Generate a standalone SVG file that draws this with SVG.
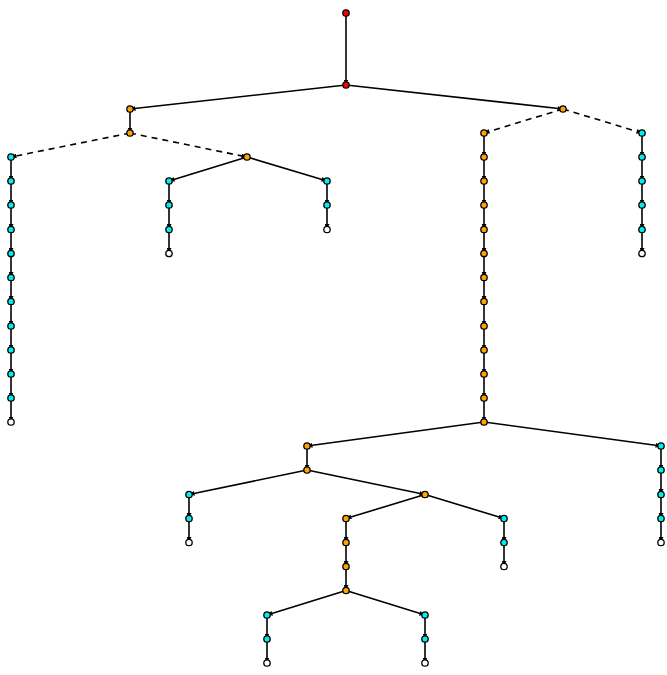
<svg xmlns="http://www.w3.org/2000/svg" width="667" height="675" viewBox="0 0 667 675">
<style>
.e{stroke:#000;stroke-width:1.6;fill:none;marker-end:url(#ah)}
.d{stroke-dasharray:6,5}
circle{stroke:#000;stroke-width:1.3}
.r{fill:#ff0000}.o{fill:#ffa500}.c{fill:#00eeee}.w{fill:#fff}
</style>
<defs>
<marker id="ah" viewBox="0 0 10 10" markerUnits="userSpaceOnUse" markerWidth="5" markerHeight="5" refX="11" refY="5" orient="auto"><path d="M0,0 L10,5 L0,10 z" fill="#000"/></marker>
</defs>
<rect width="667" height="675" fill="#fff"/>
<g id="connectors">
<line class="e" x1="346" y1="13" x2="346" y2="85"/>
<line class="e" x1="346" y1="85" x2="130" y2="109"/>
<line class="e" x1="346" y1="85" x2="563" y2="109"/>
<line class="e" x1="130" y1="109" x2="130" y2="133"/>
<line class="e d" x1="130" y1="133" x2="11" y2="157"/>
<line class="e d" x1="130" y1="133" x2="247" y2="157"/>
<line class="e" x1="11" y1="157" x2="11" y2="181"/>
<line class="e" x1="11" y1="181" x2="11" y2="205"/>
<line class="e" x1="11" y1="205" x2="11" y2="229.5"/>
<line class="e" x1="11" y1="229.5" x2="11" y2="253.5"/>
<line class="e" x1="11" y1="253.5" x2="11" y2="277.5"/>
<line class="e" x1="11" y1="277.5" x2="11" y2="301.5"/>
<line class="e" x1="11" y1="301.5" x2="11" y2="326"/>
<line class="e" x1="11" y1="326" x2="11" y2="350"/>
<line class="e" x1="11" y1="350" x2="11" y2="374"/>
<line class="e" x1="11" y1="374" x2="11" y2="398"/>
<line class="e" x1="11" y1="398" x2="11" y2="422"/>
<line class="e" x1="247" y1="157" x2="169" y2="181"/>
<line class="e" x1="247" y1="157" x2="327" y2="181"/>
<line class="e" x1="169" y1="181" x2="169" y2="205"/>
<line class="e" x1="169" y1="205" x2="169" y2="229.5"/>
<line class="e" x1="169" y1="229.5" x2="169" y2="253.5"/>
<line class="e" x1="327" y1="181" x2="327" y2="205"/>
<line class="e" x1="327" y1="205" x2="327" y2="229.5"/>
<line class="e d" x1="563" y1="109" x2="484" y2="133"/>
<line class="e d" x1="563" y1="109" x2="642" y2="133"/>
<line class="e" x1="642" y1="133" x2="642" y2="157"/>
<line class="e" x1="642" y1="157" x2="642" y2="181"/>
<line class="e" x1="642" y1="181" x2="642" y2="205"/>
<line class="e" x1="642" y1="205" x2="642" y2="229.5"/>
<line class="e" x1="642" y1="229.5" x2="642" y2="253.5"/>
<line class="e" x1="484" y1="133" x2="484" y2="157"/>
<line class="e" x1="484" y1="157" x2="484" y2="181"/>
<line class="e" x1="484" y1="181" x2="484" y2="205"/>
<line class="e" x1="484" y1="205" x2="484" y2="229.5"/>
<line class="e" x1="484" y1="229.5" x2="484" y2="253.5"/>
<line class="e" x1="484" y1="253.5" x2="484" y2="277.5"/>
<line class="e" x1="484" y1="277.5" x2="484" y2="301.5"/>
<line class="e" x1="484" y1="301.5" x2="484" y2="326"/>
<line class="e" x1="484" y1="326" x2="484" y2="350"/>
<line class="e" x1="484" y1="350" x2="484" y2="374"/>
<line class="e" x1="484" y1="374" x2="484" y2="398"/>
<line class="e" x1="484" y1="398" x2="484" y2="422"/>
<line class="e" x1="484" y1="422" x2="307" y2="446"/>
<line class="e" x1="484" y1="422" x2="661" y2="446"/>
<line class="e" x1="661" y1="446" x2="661" y2="470"/>
<line class="e" x1="661" y1="470" x2="661" y2="494.5"/>
<line class="e" x1="661" y1="494.5" x2="661" y2="518.5"/>
<line class="e" x1="661" y1="518.5" x2="661" y2="542.5"/>
<line class="e" x1="307" y1="446" x2="307" y2="470"/>
<line class="e" x1="307" y1="470" x2="189" y2="494.5"/>
<line class="e" x1="307" y1="470" x2="425" y2="494.5"/>
<line class="e" x1="189" y1="494.5" x2="189" y2="518.5"/>
<line class="e" x1="189" y1="518.5" x2="189" y2="542.5"/>
<line class="e" x1="425" y1="494.5" x2="346" y2="518.5"/>
<line class="e" x1="425" y1="494.5" x2="504" y2="518.5"/>
<line class="e" x1="504" y1="518.5" x2="504" y2="542.5"/>
<line class="e" x1="504" y1="542.5" x2="504" y2="566.5"/>
<line class="e" x1="346" y1="518.5" x2="346" y2="542.5"/>
<line class="e" x1="346" y1="542.5" x2="346" y2="566.5"/>
<line class="e" x1="346" y1="566.5" x2="346" y2="590.5"/>
<line class="e" x1="346" y1="590.5" x2="267" y2="615"/>
<line class="e" x1="346" y1="590.5" x2="425" y2="615"/>
<line class="e" x1="267" y1="615" x2="267" y2="639"/>
<line class="e" x1="267" y1="639" x2="267" y2="663"/>
<line class="e" x1="425" y1="615" x2="425" y2="639"/>
<line class="e" x1="425" y1="639" x2="425" y2="663"/>
</g>
<g id="n_root"><circle class="r" cx="346" cy="13" r="3.2"/></g>
<g id="n_a"><circle class="r" cx="346" cy="85" r="3.2"/></g>
<g id="n_b1"><circle class="o" cx="130" cy="109" r="3.2"/></g>
<g id="n_b2"><circle class="o" cx="130" cy="133" r="3.2"/></g>
<g id="n_c"><circle class="o" cx="247" cy="157" r="3.2"/></g>
<g id="n_d"><circle class="o" cx="563" cy="109" r="3.2"/></g>
<g id="n_l1"><circle class="c" cx="11" cy="157" r="3.2"/></g>
<g id="n_l2"><circle class="c" cx="11" cy="181" r="3.2"/></g>
<g id="n_l3"><circle class="c" cx="11" cy="205" r="3.2"/></g>
<g id="n_l4"><circle class="c" cx="11" cy="229.5" r="3.2"/></g>
<g id="n_l5"><circle class="c" cx="11" cy="253.5" r="3.2"/></g>
<g id="n_l6"><circle class="c" cx="11" cy="277.5" r="3.2"/></g>
<g id="n_l7"><circle class="c" cx="11" cy="301.5" r="3.2"/></g>
<g id="n_l8"><circle class="c" cx="11" cy="326" r="3.2"/></g>
<g id="n_l9"><circle class="c" cx="11" cy="350" r="3.2"/></g>
<g id="n_l10"><circle class="c" cx="11" cy="374" r="3.2"/></g>
<g id="n_l11"><circle class="c" cx="11" cy="398" r="3.2"/></g>
<g id="n_l12"><circle class="w" cx="11" cy="422" r="3.2"/></g>
<g id="n_e1"><circle class="c" cx="169" cy="181" r="3.2"/></g>
<g id="n_e2"><circle class="c" cx="169" cy="205" r="3.2"/></g>
<g id="n_e3"><circle class="c" cx="169" cy="229.5" r="3.2"/></g>
<g id="n_e4"><circle class="w" cx="169" cy="253.5" r="3.2"/></g>
<g id="n_f1"><circle class="c" cx="327" cy="181" r="3.2"/></g>
<g id="n_f2"><circle class="c" cx="327" cy="205" r="3.2"/></g>
<g id="n_f3"><circle class="w" cx="327" cy="229.5" r="3.2"/></g>
<g id="n_g1"><circle class="c" cx="642" cy="133" r="3.2"/></g>
<g id="n_g2"><circle class="c" cx="642" cy="157" r="3.2"/></g>
<g id="n_g3"><circle class="c" cx="642" cy="181" r="3.2"/></g>
<g id="n_g4"><circle class="c" cx="642" cy="205" r="3.2"/></g>
<g id="n_g5"><circle class="c" cx="642" cy="229.5" r="3.2"/></g>
<g id="n_g6"><circle class="w" cx="642" cy="253.5" r="3.2"/></g>
<g id="n_h1"><circle class="o" cx="484" cy="133" r="3.2"/></g>
<g id="n_h2"><circle class="o" cx="484" cy="157" r="3.2"/></g>
<g id="n_h3"><circle class="o" cx="484" cy="181" r="3.2"/></g>
<g id="n_h4"><circle class="o" cx="484" cy="205" r="3.2"/></g>
<g id="n_h5"><circle class="o" cx="484" cy="229.5" r="3.2"/></g>
<g id="n_h6"><circle class="o" cx="484" cy="253.5" r="3.2"/></g>
<g id="n_h7"><circle class="o" cx="484" cy="277.5" r="3.2"/></g>
<g id="n_h8"><circle class="o" cx="484" cy="301.5" r="3.2"/></g>
<g id="n_h9"><circle class="o" cx="484" cy="326" r="3.2"/></g>
<g id="n_h10"><circle class="o" cx="484" cy="350" r="3.2"/></g>
<g id="n_h11"><circle class="o" cx="484" cy="374" r="3.2"/></g>
<g id="n_h12"><circle class="o" cx="484" cy="398" r="3.2"/></g>
<g id="n_h13"><circle class="o" cx="484" cy="422" r="3.2"/></g>
<g id="n_i1"><circle class="c" cx="661" cy="446" r="3.2"/></g>
<g id="n_i2"><circle class="c" cx="661" cy="470" r="3.2"/></g>
<g id="n_i3"><circle class="c" cx="661" cy="494.5" r="3.2"/></g>
<g id="n_i4"><circle class="c" cx="661" cy="518.5" r="3.2"/></g>
<g id="n_i5"><circle class="w" cx="661" cy="542.5" r="3.2"/></g>
<g id="n_j1"><circle class="o" cx="307" cy="446" r="3.2"/></g>
<g id="n_j2"><circle class="o" cx="307" cy="470" r="3.2"/></g>
<g id="n_k1"><circle class="c" cx="189" cy="494.5" r="3.2"/></g>
<g id="n_k2"><circle class="c" cx="189" cy="518.5" r="3.2"/></g>
<g id="n_k3"><circle class="w" cx="189" cy="542.5" r="3.2"/></g>
<g id="n_m"><circle class="o" cx="425" cy="494.5" r="3.2"/></g>
<g id="n_p1"><circle class="c" cx="504" cy="518.5" r="3.2"/></g>
<g id="n_p2"><circle class="c" cx="504" cy="542.5" r="3.2"/></g>
<g id="n_p3"><circle class="w" cx="504" cy="566.5" r="3.2"/></g>
<g id="n_q1"><circle class="o" cx="346" cy="518.5" r="3.2"/></g>
<g id="n_q2"><circle class="o" cx="346" cy="542.5" r="3.2"/></g>
<g id="n_q3"><circle class="o" cx="346" cy="566.5" r="3.2"/></g>
<g id="n_q4"><circle class="o" cx="346" cy="590.5" r="3.2"/></g>
<g id="n_s1"><circle class="c" cx="267" cy="615" r="3.2"/></g>
<g id="n_s2"><circle class="c" cx="267" cy="639" r="3.2"/></g>
<g id="n_s3"><circle class="w" cx="267" cy="663" r="3.2"/></g>
<g id="n_t1"><circle class="c" cx="425" cy="615" r="3.2"/></g>
<g id="n_t2"><circle class="c" cx="425" cy="639" r="3.2"/></g>
<g id="n_t3"><circle class="w" cx="425" cy="663" r="3.2"/></g>
</svg>
